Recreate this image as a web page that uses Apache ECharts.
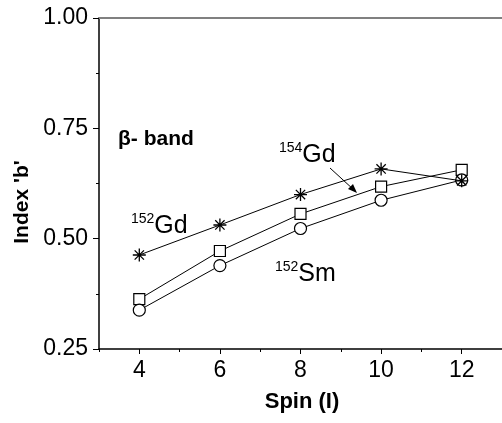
<!DOCTYPE html>
<html>
<head>
<meta charset="utf-8">
<script src="https://cdn.jsdelivr.net/npm/echarts@6/dist/echarts.min.js"></script>
<style>
  html, body { margin: 0; padding: 0; background: #fff; }
  #chart { width: 502px; height: 423px; }
</style>
</head>
<body>
<div id="chart"></div>
<script>
// spin values
const spins = [4, 6, 8, 10, 12];
// index 'b' per nucleus
const gd152 = [0.463, 0.531, 0.600, 0.658, 0.631];
const gd154 = [0.363, 0.472, 0.556, 0.618, 0.656];
const sm152 = [0.338, 0.439, 0.523, 0.587, 0.633];
// tick labels
const xLabels = [4, 6, 8, 10, 12];

const pairs = (ys) => spins.map((x, i) => [x, ys[i]]);
const font = "Liberation Sans, Arial, sans-serif";
const star = "path://M0,-6L0,6M-6,0L6,0M-4.3,-4.3L4.3,4.3M-4.3,4.3L4.3,-4.3";

const mychart = echarts.init(document.getElementById("chart"));
const sup = { fontSize: 14, fontFamily: font, verticalAlign: "top", lineHeight: 28 };
const big = { fontSize: 25, fontFamily: font, lineHeight: 28 };

let option = {
  animation: false,
  grid: { left: 99, right: 0, top: 18, bottom: 74 },
  xAxis: [
    {
      type: "value",
      min: 3,
      max: 13,
      interval: 1,
      axisLine: { lineStyle: { color: "#000", width: 1.5 } },
      axisTick: { length: 3, lineStyle: { color: "#000" } },
      axisLabel: {
        customValues: xLabels,
        color: "#000",
        fontSize: 23,
        fontFamily: font,
        margin: 10,
      },
      splitLine: { show: false },
    },
    {
      type: "value",
      min: 3,
      max: 13,
      position: "bottom",
      axisLine: { show: false },
      axisTick: { customValues: xLabels, length: 5, lineStyle: { color: "#000" } },
      axisLabel: { show: false },
      splitLine: { show: false },
    },
    {
      type: "value",
      min: 3,
      max: 13,
      position: "top",
      axisLine: { lineStyle: { color: "#808080", width: 2 } },
      axisTick: { show: false },
      axisLabel: { show: false },
      splitLine: { show: false },
    },
  ],
  yAxis: {
    type: "value",
    min: 0.25,
    max: 1.0,
    interval: 0.25,
    axisLine: { show: true, lineStyle: { color: "#000", width: 1.5 } },
    axisTick: { show: true, length: 6, lineStyle: { color: "#000" } },
    minorTick: { show: true, splitNumber: 2, length: 3, lineStyle: { color: "#000" } },
    axisLabel: {
      color: "#000",
      fontSize: 23,
      fontFamily: font,
      margin: 11,
      formatter: (v) => v.toFixed(2),
    },
    splitLine: { show: false },
  },
  graphic: [
    {
      type: "text", x: 22, y: 202, rotation: Math.PI / 2,
      style: { text: "Index 'b'", font: "bold 21px " + font, fill: "#000", align: "center", verticalAlign: "middle" },
    },
    {
      type: "text", x: 302, y: 402,
      style: { text: "Spin (I)", font: "bold 22px " + font, fill: "#000", align: "center", verticalAlign: "middle" },
    },
    {
      type: "text", x: 118, y: 139,
      style: { text: "β- band", font: "bold 21px " + font, fill: "#000", align: "left", verticalAlign: "middle" },
    },
    {
      type: "text", x: 131, y: 212,
      style: { text: "{s|152}{m|Gd}", rich: { s: sup, m: big }, fill: "#000" },
    },
    {
      type: "text", x: 279, y: 141,
      style: { text: "{s|154}{m|Gd}", rich: { s: sup, m: big }, fill: "#000" },
    },
    {
      type: "text", x: 275, y: 260,
      style: { text: "{s|152}{m|Sm}", rich: { s: sup, m: big }, fill: "#000" },
    },
    {
      type: "line",
      shape: { x1: 330, y1: 168, x2: 354, y2: 190 },
      style: { stroke: "#000", lineWidth: 1 },
    },
    {
      type: "polygon",
      shape: { points: [[357, 193], [348, 189], [353, 184]] },
      style: { fill: "#000" },
    },
  ],
  series: [
    {
      name: "152Gd",
      type: "line",
      data: pairs(gd152),
      symbol: star,
      symbolSize: 13,
      lineStyle: { color: "#000", width: 1 },
      itemStyle: { color: "rgba(0,0,0,0)", borderColor: "#000", borderWidth: 1.3 },
      z: 3,
    },
    {
      name: "154Gd",
      type: "line",
      data: pairs(gd154),
      symbol: "rect",
      symbolSize: 11,
      lineStyle: { color: "#000", width: 1 },
      itemStyle: { color: "#fff", borderColor: "#000", borderWidth: 1.2 },
      z: 2,
    },
    {
      name: "152Sm",
      type: "line",
      data: pairs(sm152),
      symbol: "circle",
      symbolSize: 12,
      lineStyle: { color: "#000", width: 1 },
      itemStyle: { color: "#fff", borderColor: "#000", borderWidth: 1.2 },
      z: 2,
    },
  ],
};
mychart.setOption(option);
</script>
</body>
</html>
